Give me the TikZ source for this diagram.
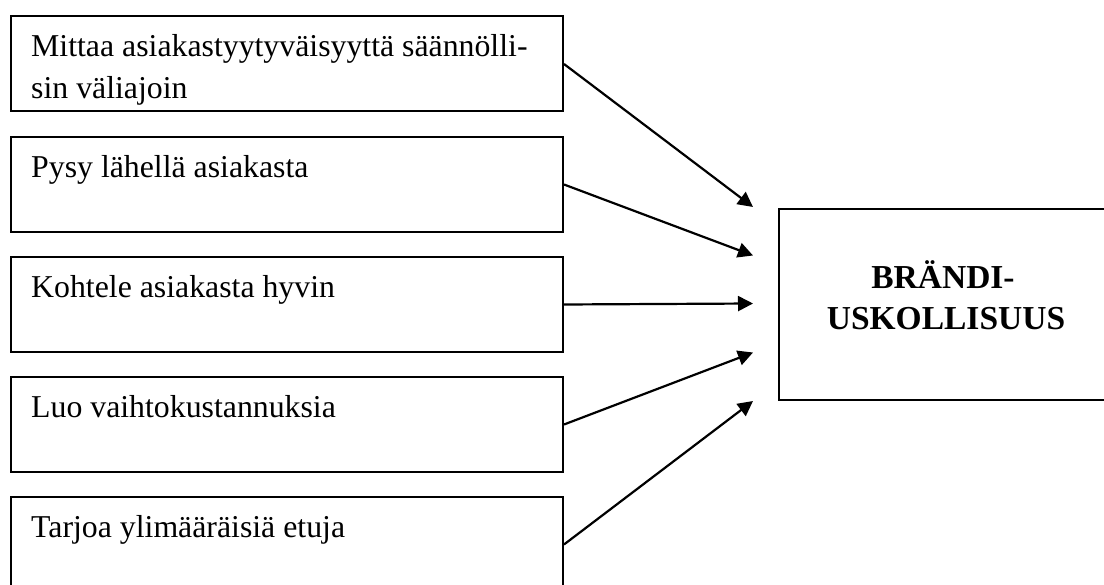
\documentclass[tikz,border=0pt]{standalone}
\usepackage{fontspec}
\setmainfont{Liberation Serif}
\usetikzlibrary{arrows.meta}
\tikzset{
  leftbox/.style={draw, line width=2pt, minimum width=552.5pt, minimum height=95pt, anchor=north west, inner sep=0pt},
  lefttext/.style={anchor=north west, inner sep=0pt, align=left, font=\fontsize{31.8}{42}\selectfont},
  rightbox/.style={draw, line width=2pt, minimum width=329pt, minimum height=191.5pt, anchor=north west, inner sep=0pt},
  righttext/.style={anchor=base, inner sep=0pt, font=\fontsize{33.5}{41}\selectfont\bfseries},
  arr/.style={line width=2.2pt, -{Triangle[length=15pt,width=15pt]}}
}
\begin{document}
\begin{tikzpicture}[x=1pt,y=-1pt]
\useasboundingbox (0,0) rectangle (1104,585);
\clip (0,0) rectangle (1104,585);
\fill[white] (0,0) rectangle (1104,585);
% left boxes
\node[leftbox] (b1) at (9.5,15.5) {};
\node[leftbox] (b2) at (9.5,136) {};
\node[leftbox] (b3) at (9.5,256) {};
\node[leftbox] (b4) at (9.5,376) {};
\node[leftbox] (b5) at (9.5,496) {};
\node[lefttext] (l1) at (31,34.5) {Mittaa asiakastyytyväisyyttä säännölli-\\sin väliajoin};
\node[lefttext] (l2) at (31,155.5) {Pysy lähellä asiakasta};
\node[lefttext] (l3) at (31,275.5) {Kohtele asiakasta hyvin};
\node[lefttext] (l4) at (31,395.5) {Luo vaihtokustannuksia};
\node[lefttext] (l5) at (31,515.5) {Tarjoa ylimääräisiä etuja};
% right box
\node[rightbox] (rb) at (778,208) {};
\node[righttext] (r1) at (943,289) {BRÄNDI-};
\node[righttext] (r2) at (946,330) {USKOLLISUUS};
% arrow ends
\coordinate (t1) at (753,207);
\coordinate (t2) at (753,255.5);
\coordinate (t3) at (753,303.5);
\coordinate (t4) at (753,352.5);
\coordinate (t5) at (753,401);
\draw[arr] (b1.east) -- (t1);
\draw[arr] (b2.east) -- (t2);
\draw[arr] (b3.east) -- (t3);
\draw[arr] (b4.east) -- (t4);
\draw[arr] (b5.east) -- (t5);
\end{tikzpicture}
\end{document}
